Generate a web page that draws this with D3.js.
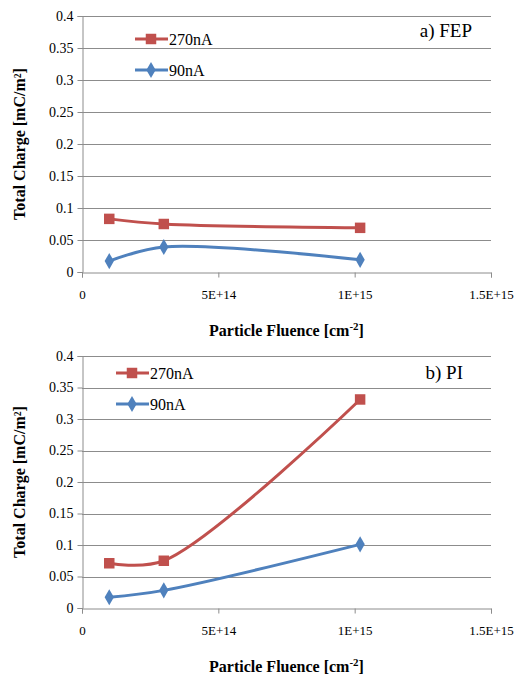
<!DOCTYPE html>
<html>
<head>
<meta charset="utf-8">
<script src="https://cdn.jsdelivr.net/npm/d3@7"></script>
<style>
  body { margin: 0; background: #fff; }
</style>
</head>
<body>
<script>
// fluence values (cm^-2)
var fluence = [1e14, 3e14, 1.02e15];
var xTicks = [0, 5e14, 1e15, 1.5e15];
var xTickLabels = ["0", "5E+14", "1E+15", "1.5E+15"];
var yTicks = [0, 0.05, 0.1, 0.15, 0.2, 0.25, 0.3, 0.35, 0.4];
var yTickLabels = ["0", "0.05", "0.1", "0.15", "0.2", "0.25", "0.3", "0.35", "0.4"];
var seriesNames = ["270nA", "90nA"];

// total charge (mC/m2)
var fep270 = [0.083, 0.075, 0.069];
var fep90 = [0.017, 0.039, 0.019];
var pi270 = [0.071, 0.075, 0.331];
var pi90 = [0.017, 0.028, 0.101];

var panels = [
    {title: "a) FEP", series: [fep270, fep90], top: 16, bottom: 272, legendX: 135, legendY: 39, titleX: 472, titleY: 37},
    {title: "b) PI", series: [pi270, pi90], top: 356, bottom: 608, legendX: 116, legendY: 373, titleX: 463, titleY: 379}
];

var colors = ["#c0504d", "#4f81bd"];
var serif = "serif";

var svg = d3.select("body").append("svg")
    .attr("width", 521)
    .attr("height", 677)
    .attr("font-family", serif);

var x = d3.scaleLinear().domain([0, 1.5e15]).range([82, 491]);

panels.forEach(function (p) {
    var y = d3.scaleLinear().domain([0, 0.4]).range([p.bottom, p.top]);
    var g = svg.append("g");

    // gridlines
    g.append("g").selectAll("line")
        .data(yTicks.slice(1))
        .enter().append("line")
        .attr("x1", x(0)).attr("x2", x(1.5e15))
        .attr("y1", function (d) { return Math.round(y(d)) + 0.5; })
        .attr("y2", function (d) { return Math.round(y(d)) + 0.5; })
        .attr("stroke", "#8c8c8c")
        .attr("stroke-width", 1);

    // y axis
    var yAxis = g.append("g")
        .attr("transform", "translate(" + (x(0) + 0.5) + ",0)")
        .call(d3.axisLeft(y).tickValues(yTicks)
            .tickFormat(function (d, i) { return yTickLabels[i]; })
            .tickSizeOuter(0).tickSize(5).tickPadding(4));

    // x axis
    var xAxis = g.append("g")
        .attr("transform", "translate(0," + (Math.round(p.bottom) + 0.5) + ")")
        .call(d3.axisBottom(x).tickValues(xTicks)
            .tickFormat(function (d, i) { return xTickLabels[i]; })
            .tickSizeOuter(0).tickSize(5).tickPadding(12));

    [yAxis, xAxis].forEach(function (a) {
        a.attr("font-family", serif).attr("font-size", 14);
        a.select(".domain").attr("stroke", "#8c8c8c");
        a.selectAll(".tick line").attr("stroke", "#8c8c8c");
        a.selectAll(".tick text").attr("fill", "#000");
    });
    xAxis.attr("font-size", 13);

    // axis titles
    g.append("text")
        .attr("x", (x(0) + x(1.5e15)) / 2)
        .attr("y", p.bottom + 64)
        .attr("text-anchor", "middle")
        .attr("font-weight", "bold")
        .attr("font-size", 16)
        .html("Particle Fluence [cm<tspan dy='-6' font-size='11'>-2</tspan><tspan dy='6'>]</tspan>");

    g.append("text")
        .attr("transform", "translate(25," + ((p.top + p.bottom) / 2) + ") rotate(-90)")
        .attr("text-anchor", "middle")
        .attr("font-weight", "bold")
        .attr("font-size", 16)
        .text("Total Charge [mC/m²]");

    // panel title
    g.append("text")
        .attr("x", p.titleX)
        .attr("y", p.titleY)
        .attr("text-anchor", "end")
        .attr("font-size", 19)
        .text(p.title);

    var line = d3.line()
        .x(function (d, i) { return x(fluence[i]); })
        .y(function (d) { return y(d); })
        .curve(d3.curveCatmullRom.alpha(0.5));

    p.series.forEach(function (s, k) {
        g.append("path")
            .datum(s)
            .attr("d", line)
            .attr("fill", "none")
            .attr("stroke", colors[k])
            .attr("stroke-width", 3);

        var sym = d3.symbol().type(k === 0 ? d3.symbolSquare : d3.symbolDiamond)
            .size(k === 0 ? 110 : 75);
        g.append("g").selectAll("path")
            .data(s)
            .enter().append("path")
            .attr("transform", function (d, i) { return "translate(" + x(fluence[i]) + "," + y(d) + ")"; })
            .attr("d", sym)
            .attr("fill", colors[k]);

        // legend
        var ly = p.legendY + k * 31;
        g.append("line")
            .attr("x1", p.legendX).attr("x2", p.legendX + 33)
            .attr("y1", ly).attr("y2", ly)
            .attr("stroke", colors[k])
            .attr("stroke-width", 3);
        g.append("path")
            .attr("transform", "translate(" + (p.legendX + 16) + "," + ly + ")")
            .attr("d", sym)
            .attr("fill", colors[k]);
        g.append("text")
            .attr("x", p.legendX + 34)
            .attr("y", ly + 6)
            .attr("font-size", 16)
            .text(seriesNames[k]);
    });
});
</script>
</body>
</html>
